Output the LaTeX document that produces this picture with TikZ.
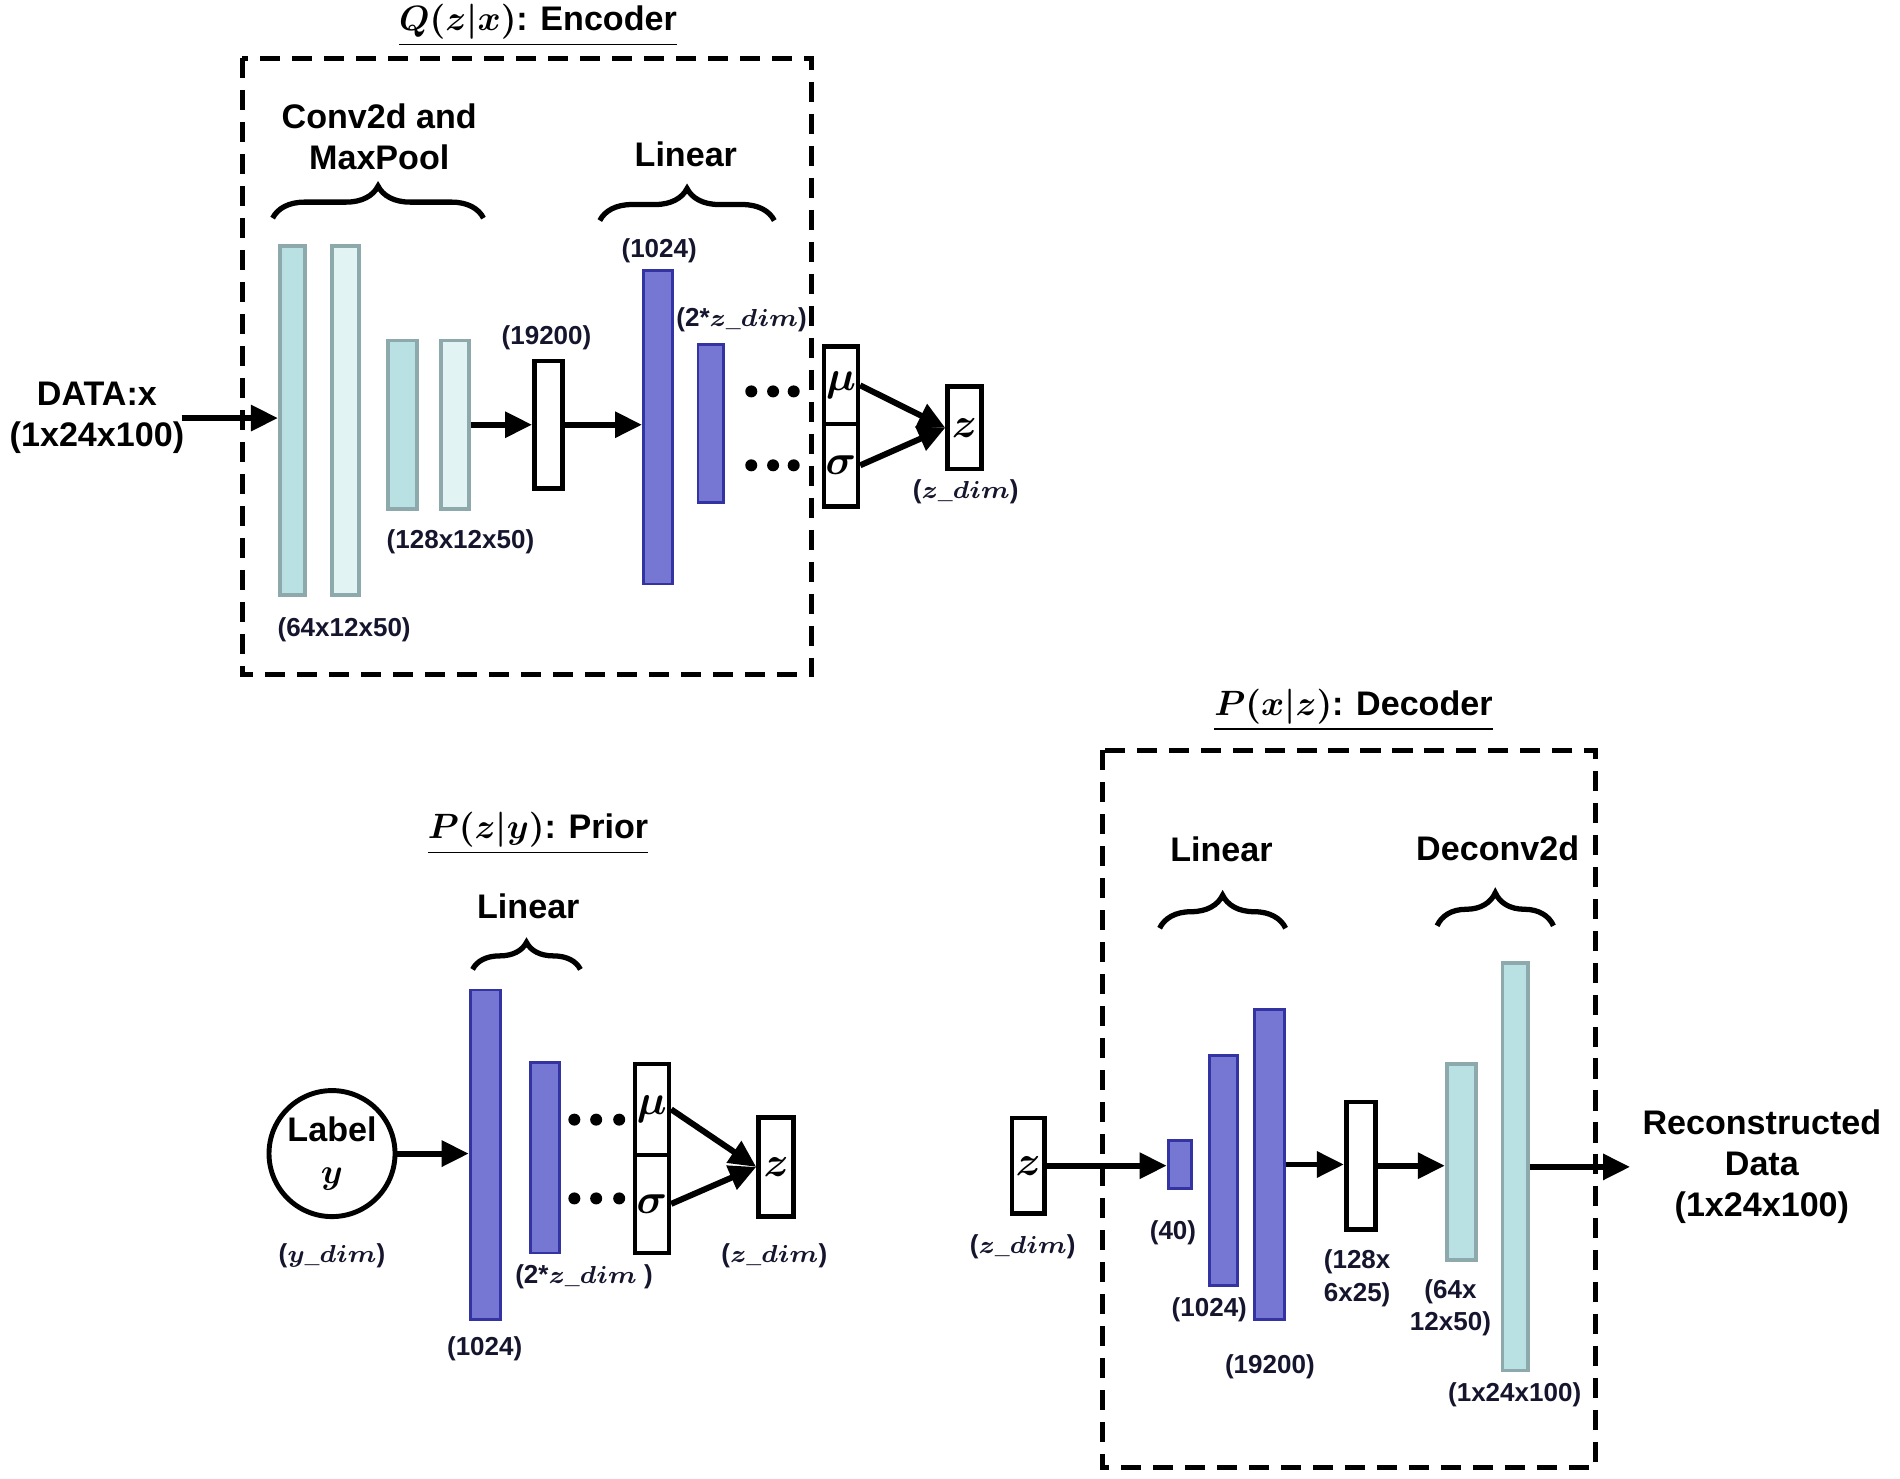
\documentclass[tikz,border=0pt]{standalone}
\usepackage{fontspec}
\usepackage{amsmath}
\setmainfont{Liberation Sans}
\usetikzlibrary{arrows.meta}
\usetikzlibrary{decorations.pathreplacing}
\definecolor{tealfill}{HTML}{B9E0E3}
\definecolor{tealpale}{HTML}{E2F3F4}
\definecolor{tealedge}{HTML}{8DA9AC}
\definecolor{purplefill}{HTML}{7676D3}
\definecolor{purpleedge}{HTML}{3333A3}
\definecolor{labelink}{HTML}{15152E}
\newcommand{\px}{0.012117cm}
\newcommand{\bigfont}{\bfseries\fontsize{9.7}{11.7}\selectfont}
\newcommand{\dimfont}{\bfseries\fontsize{7.4}{9.2}\selectfont}
\newcommand{\symfont}{\fontsize{11.5}{13}\selectfont}
\newcommand{\zdim}{$\boldsymbol{z\_dim}$}
\tikzset{
  slab/.style 2 args={inner sep=0pt, minimum width=#1*\px, minimum height=#2*\px},
  conv/.style={draw=tealedge, fill=tealfill, line width=1.1pt},
  pool/.style={draw=tealedge, fill=tealpale, line width=1.1pt},
  dense/.style={draw=purpleedge, fill=purplefill, line width=0.8pt},
  blackbox/.style={draw, line width=1.3pt, fill=white, font=\symfont},
  groupbox/.style={draw, line width=1.4pt, dash pattern=on 5.7pt off 3.4pt},
  flow/.style={line width=1.7pt, -{Triangle[length=0.27cm, width=0.25cm]}},
  heading/.style={font=\bigfont, align=center},
  partitle/.style={font=\bigfont, inner sep=0.5pt},
  dimlabel/.style={font=\dimfont, text=labelink, align=center},
  groupbrace/.style={decorate, decoration={brace, amplitude=#1}, line width=1.5pt},
}
\begin{document}
\begin{tikzpicture}[x=\px, y=-\px]
  \useasboundingbox (0,0) rectangle (1568,1219.8);

  % encoder part
  \node[partitle] (enctitle) at (444,21) {\underline{$\boldsymbol{Q(z|x)}$: Encoder}};
  \draw[groupbox] (200,48) rectangle (670,557);
  \node[heading] (convhead) at (313,113) {Conv2d and\\MaxPool};
  \draw[groupbrace=0.32cm] (225,180) -- (399,180);
  \node[heading] (enclinhead) at (566,127) {Linear};
  \draw[groupbrace=0.32cm] (495,182) -- (639,182);

  \node[slab={21}{288}, conv] (convA) at (241.5,347) {};
  \node[slab={22}{288}, pool] (poolA) at (285,347) {};
  \node[slab={24}{139}, conv] (convB) at (332,350.5) {};
  \node[slab={23}{139}, pool] (poolB) at (375.5,350.5) {};
  \node[slab={23}{105}, blackbox] (flatenc) at (452.5,350.5) {};
  \node[slab={24}{259}, dense] (encfc) at (543,352.5) {};
  \node[slab={21}{131}, dense] (encfcz) at (586.5,349.5) {};
  \node[slab={28}{64}, blackbox] (encmu) at (694,318) {$\boldsymbol{\mu}$};
  \node[slab={28}{68}, blackbox] (encsigma) at (694,384) {$\boldsymbol{\sigma}$};
  \node[slab={28}{68}, blackbox] (encz) at (796,353) {$\boldsymbol{z}$};

  \node[heading] (datain) at (80,345) {DATA:x\\(1x24x100)};
  \node[dimlabel] (convAdim) at (284,520) {(64x12x50)};
  \node[dimlabel] (convBdim) at (380,447) {(128x12x50)};
  \node[dimlabel] (flatencdim) at (451,279) {(19200)};
  \node[dimlabel] (encfcdim) at (544,207) {(1024)};
  \node[dimlabel] (encfczdim) at (612,264) {(2*\zdim)};
  \node[dimlabel] (enczdim) at (797,406) {(\zdim)};

  \foreach \dx in {620,638,655} {
    \fill (\dx,323) circle (0.06cm);
    \fill (\dx,384) circle (0.06cm);
  }

  \draw[flow, shorten <=-0.15cm] (datain.east) -- (datain.east -| convA.west);
  \draw[flow] (poolB.east) -- (flatenc.west);
  \draw[flow] (flatenc.east) -- (flatenc.east -| encfc.west);
  \draw[flow] (encmu.east) -- (encz.west);
  \draw[flow] (encsigma.east) -- (encz.west);

  % prior part
  \node[partitle] (priortitle) at (444,688) {\underline{$\boldsymbol{P(z|y)}$: Prior}};
  \node[heading] (priorhead) at (436,748) {Linear};
  \draw[groupbrace=0.27cm] (390,800) -- (479,800);
  \node[heading, circle, draw, line width=1.4pt, minimum size=104*\px, inner sep=0pt] (label) at (274,952) {Label\\$\boldsymbol{y}$};
  \node[dimlabel] (labeldim) at (274,1036) {($\boldsymbol{y\_dim}$)};

  \node[slab={25}{272}, dense] (priorfc) at (400.5,953) {};
  \node[slab={24}{157}, dense] (priorfcz) at (450,955.5) {};
  \node[slab={28}{75}, blackbox] (priormu) at (538,915.5) {$\boldsymbol{\mu}$};
  \node[slab={28}{81}, blackbox] (priorsigma) at (538,993.5) {$\boldsymbol{\sigma}$};
  \node[slab={29}{82}, blackbox] (priorz) at (640.5,963) {$\boldsymbol{z}$};

  \node[dimlabel] (priorfcdim) at (400,1113) {(1024)};
  \node[dimlabel] (priorfczdim) at (482,1054) {(2*\zdim{} )};
  \node[dimlabel] (priorzdim) at (639,1036) {(\zdim)};

  \foreach \dx in {474,492,511} {
    \fill (\dx,924) circle (0.06cm);
    \fill (\dx,989) circle (0.06cm);
  }

  \draw[flow] (label.east) -- (label.east -| priorfc.west);
  \draw[flow] (priormu.east) -- (priorz.west);
  \draw[flow] (priorsigma.east) -- (priorz.west);

  % decoder part
  \node[partitle] (dectitle) at (1117,586) {\underline{$\boldsymbol{P(x|z)}$: Decoder}};
  \draw[groupbox] (910,619) rectangle (1317,1211);
  \node[heading] (declinhead) at (1008,701) {Linear};
  \draw[groupbrace=0.33cm] (957,766) -- (1061,766);
  \node[heading] (deconvhead) at (1236,700) {Deconv2d};
  \draw[groupbrace=0.33cm] (1186,764) -- (1282,764);

  \node[slab={27}{79}, blackbox] (deczin) at (848.5,962) {$\boldsymbol{z}$};
  \node[slab={19}{40}, dense] (decfcA) at (973.5,961) {};
  \node[slab={23}{190}, dense] (decfcB) at (1009.5,966) {};
  \node[slab={25}{256}, dense] (decfcC) at (1047.5,961) {};
  \node[slab={24}{105}, blackbox] (flatdec) at (1123,962) {};
  \node[slab={24}{162}, conv] (deconvA) at (1206,959) {};
  \node[slab={21}{336}, conv] (deconvB) at (1250.5,963) {};

  \node[dimlabel] (deczdim) at (844,1029) {(\zdim)};
  \node[dimlabel] (decfcAdim) at (968,1017) {(40)};
  \node[dimlabel] (decfcBdim) at (998,1081) {(1024)};
  \node[dimlabel] (decfcCdim) at (1048,1128) {(19200)};
  \node[dimlabel] (flatdecdim) at (1120,1055) {(128x\\6x25)};
  \node[dimlabel] (deconvAdim) at (1197,1079) {(64x\\12x50)};
  \node[dimlabel] (deconvBdim) at (1250,1151) {(1x24x100)};
  \node[heading] (recon) at (1454,963) {Reconstructed\\Data\\(1x24x100)};

  \draw[flow] (deczin.east) -- (deczin.east -| decfcA.west);
  \draw[flow] (decfcC.east) -- (decfcC.east -| flatdec.west);
  \draw[flow] (flatdec.east) -- (flatdec.east -| deconvA.west);
  \draw[flow] (deconvB.east) -- (deconvB.east -| recon.west);
\end{tikzpicture}
\end{document}
